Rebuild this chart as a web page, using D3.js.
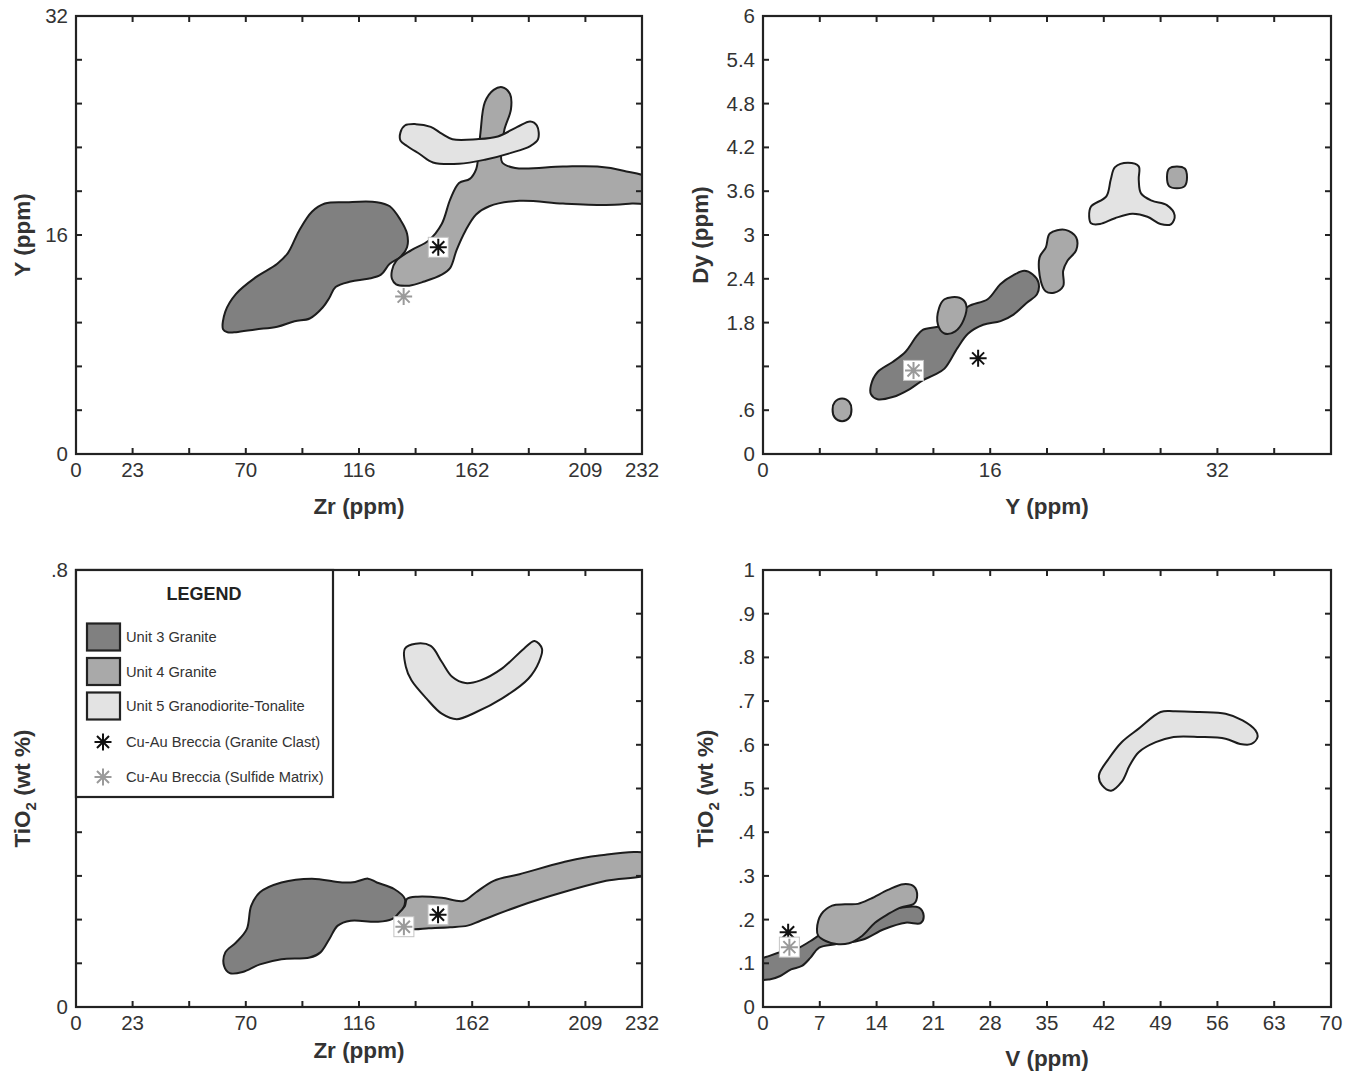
<!DOCTYPE html>
<html><head><meta charset="utf-8">
<script src="https://cdn.jsdelivr.net/npm/d3@7"></script>
<style>body{margin:0;background:#fff}svg{display:block}</style>
</head><body>
<svg id="chart" width="1358" height="1075"></svg>
<script>
// ---------- tick values & labels ----------
const zrTickValues = [0,23.2,46.4,69.6,92.8,116,139.2,162.4,185.6,208.8,232];
const zrTickLabels = ["0","23","","70","","116","","162","","209","232"];
const yppmTickValuesV = [0,3.2,6.4,9.6,12.8,16,19.2,22.4,25.6,28.8,32];
const yppmTickLabelsV = ["0","","","","","16","","","","","32"];
const yppmTickValuesH = [0,4,8,12,16,20,24,28,32,36,40];
const yppmTickLabelsH = ["0","","","","16","","","","32","",""];
const dyTickValues = [0,0.6,1.2,1.8,2.4,3,3.6,4.2,4.8,5.4,6];
const dyTickLabels = ["0",".6","","1.8","2.4","3","3.6","4.2","4.8","5.4","6"];
const tio2ATickValues = [0,0.08,0.16,0.24,0.32,0.4,0.48,0.56,0.64,0.72,0.8];
const tio2ATickLabels = ["0","","","","","","","","","",".8"];
const vTickValues = [0,7,14,21,28,35,42,49,56,63,70];
const vTickLabels = ["0","7","14","21","28","35","42","49","56","63","70"];
const tio2BTickValues = [0,0.1,0.2,0.3,0.4,0.5,0.6,0.7,0.8,0.9,1];
const tio2BTickLabels = ["0",".1",".2",".3",".4",".5",".6",".7",".8",".9","1"];

// ---------- legend ----------
const unitNames = ["Unit 3 Granite","Unit 4 Granite","Unit 5 Granodiorite-Tonalite"];
const markerNames = ["Cu-Au Breccia (Granite Clast)","Cu-Au Breccia (Sulfide Matrix)"];

// ---------- field outlines (data coordinates) ----------
// Panel A: Zr vs Y
const zrY_unit3 = [[60.3,9.1],[61.2,10.4],[65.6,11.7],[73.6,12.9],[82.5,13.9],[86.9,14.7],[91.4,16.3],[96.7,17.7],[102,18.3],[110.9,18.4],[123.3,18.4],[128.6,18.1],[133,17.1],[135.7,16.1],[135.7,15.1],[133,14.4],[128.6,13.9],[125,13.1],[119.7,12.8],[112.6,12.6],[106.4,12.2],[103.8,11.4],[101.1,10.7],[95.8,9.9],[89.6,9.7],[82.5,9.3],[73.6,9.1],[65.6,8.9],[62.1,8.9]];
const zrY_unit4 = [[129.5,13.4],[131.2,14.1],[137.5,14.9],[144.6,15.6],[149.9,16.8],[153.4,18.6],[157,19.8],[161.4,20.1],[164,20.8],[164.9,21.8],[165.8,23.5],[167.6,25.7],[171.2,26.6],[174.7,26.8],[177.9,26.3],[178.3,25.2],[175.6,23.7],[174.4,22.3],[174.7,21.3],[180,20.9],[199.6,21.0],[213.7,21.0],[224.4,20.7],[236,20.0],[236,18.4],[227.9,18.3],[217.3,18.2],[199.6,18.3],[181.8,18.5],[169.4,18.1],[164,17.5],[159.6,16.3],[156,14.9],[153.4,13.6],[149.9,13.1],[142.8,12.6],[136.6,12.3],[131.2,12.4],[129.5,12.8]];
const zrY_unit5 = [[133,23.5],[134.8,24.0],[139.2,24.1],[145.4,23.9],[149.9,23.4],[154.3,23.0],[164.1,23.0],[172.9,23.2],[180.9,23.9],[186.2,24.3],[188.9,24.0],[189.4,23.0],[186.2,22.5],[178.3,22.0],[167.6,21.5],[157,21.2],[146.3,21.3],[141,21.9],[135.7,22.5],[133,22.9]];
const zrY_clast = [148.5,15.1];
const zrY_matrix = [134.3,11.5];

// Panel B: Y vs Dy
const yDy_unit3 = [[7.6,0.94],[8.06,1.12],[9.13,1.26],[10.04,1.40],[10.8,1.61],[11.25,1.70],[12.47,1.75],[13.69,1.86],[14.45,2.02],[15.82,2.12],[16.73,2.33],[17.64,2.45],[18.4,2.51],[19.0,2.46],[19.4,2.35],[19.3,2.19],[18.56,2.07],[17.64,1.91],[16.73,1.82],[15.51,1.77],[14.45,1.65],[13.69,1.45],[12.78,1.17],[12.02,1.08],[11.25,1.01],[10.34,0.89],[9.13,0.78],[8.06,0.75],[7.6,0.82]];
const yDy_unit4a = [[5.57,0.76],[6.08,0.71],[6.23,0.61],[6.08,0.50],[5.57,0.45],[5.05,0.50],[4.9,0.61],[5.05,0.71]];
const yDy_unit4b = [[12.78,2.12],[13.84,2.14],[14.3,2.05],[14.14,1.84],[13.54,1.68],[12.78,1.65],[12.32,1.77],[12.4,2.0]];
const yDy_unit4c = [[20.2,3.02],[21.3,3.07],[22.05,2.97],[22.05,2.79],[21.45,2.65],[21.14,2.51],[21.14,2.30],[20.5,2.21],[19.9,2.23],[19.56,2.37],[19.47,2.69],[19.92,2.83]];
const yDy_unit4d = [[29.15,3.94],[29.7,3.91],[29.86,3.79],[29.7,3.67],[29.15,3.64],[28.6,3.67],[28.45,3.79],[28.6,3.91]];
const yDy_unit5 = [[22.97,3.25],[23.1,3.39],[24.18,3.53],[24.49,3.76],[24.79,3.93],[25.7,3.99],[26.46,3.94],[26.46,3.76],[26.62,3.57],[27.38,3.47],[28.44,3.41],[28.99,3.27],[28.75,3.15],[27.99,3.15],[27.07,3.25],[26.0,3.29],[24.79,3.23],[23.73,3.15],[23.1,3.16]];
const yDy_clast = [15.15,1.31];
const yDy_matrix = [10.6,1.145];

// Panel C: Zr vs TiO2
const zrTi_unit3 = [[60.7,0.075],[61.2,0.10],[65.6,0.118],[70,0.1425],[71.8,0.185],[75.4,0.21],[84.2,0.228],[96.7,0.235],[109.1,0.228],[114.4,0.229],[119.7,0.235],[123.3,0.228],[130.4,0.216],[134.8,0.198],[133.9,0.179],[129.5,0.161],[123.3,0.156],[112.6,0.158],[107.3,0.149],[103.8,0.124],[100.2,0.10],[95.8,0.0905],[84.2,0.0875],[75.4,0.078],[68.3,0.064],[63,0.062]];
const zrTi_unit4 = [[130.7,0.161],[134.8,0.185],[135.7,0.198],[140.1,0.202],[149.9,0.2],[158.7,0.194],[164,0.21],[171.2,0.231],[181.8,0.243],[199.6,0.265],[213.7,0.277],[236,0.278],[236,0.247],[217.3,0.231],[199.6,0.21],[181.8,0.185],[165.8,0.158],[160.5,0.149],[153.4,0.146],[144.6,0.144],[137.5,0.1425],[133,0.15]];
const zrTi_unit5 = [[134.8,0.656],[139.2,0.665],[145.4,0.661],[149.9,0.632],[154.3,0.604],[159.6,0.593],[165.8,0.598],[174.7,0.62],[183.6,0.656],[188,0.67],[191,0.656],[189.8,0.632],[185.4,0.601],[174.7,0.565],[164.1,0.54],[156.1,0.527],[149.9,0.537],[143.6,0.565],[137.5,0.598],[135.2,0.623]];
const zrTi_clast = [148.4,0.169];
const zrTi_matrix = [134.4,0.147];

// Panel D: V vs TiO2
const vTi_unit3 = [[-0.6,0.105],[0.8,0.117],[2.66,0.128],[3.99,0.132],[5.86,0.151],[7.45,0.17],[10.5,0.19],[13.84,0.209],[16.5,0.2255],[19.16,0.228],[19.8,0.209],[19.43,0.192],[17.57,0.193],[14.9,0.178],[12.24,0.154],[9.05,0.144],[6.92,0.136],[5.86,0.113],[4.79,0.094],[3.46,0.086],[2.13,0.071],[0.8,0.063],[-0.6,0.065]];
const vTi_unit4 = [[6.65,0.178],[7.19,0.2125],[8.52,0.232],[10.1,0.235],[11.7,0.236],[13.3,0.248],[15.4,0.268],[17.3,0.281],[18.6,0.276],[19.0,0.255],[18.6,0.236],[17.0,0.228],[15.4,0.2125],[13.8,0.193],[12.24,0.163],[10.6,0.146],[9.05,0.144],[7.72,0.151],[6.81,0.163]];
const vTi_unit5 = [[41.4,0.530],[42.6,0.568],[44.2,0.606],[46.3,0.637],[49.0,0.675],[50.6,0.677],[53.8,0.675],[57.0,0.671],[59.1,0.656],[60.7,0.633],[60.95,0.618],[60.2,0.602],[58.8,0.602],[57.0,0.614],[53.8,0.618],[50.6,0.618],[48.4,0.606],[46.3,0.583],[45.2,0.553],[44.2,0.515],[42.9,0.495],[41.8,0.507]];
const vTi_clast = [3.1,0.171];
const vTi_matrix = [3.25,0.137];

// ---------- styles / layout ----------
const unitFill = ["#808080","#a9a9a9","#e3e3e3"];
const outline = "#1c1c1c";
const clastColor = "#111";
const matrixColor = "#9a9a9a";
const tickFont = "'Liberation Sans', Arial, sans-serif";

const svg = d3.select("#chart");

const panels = [
  {id:"a", px:[76,642], py:[16,454], xd:[0,232], yd:[0,32],
   xt:zrTickValues, xl:zrTickLabels, yt:yppmTickValuesV, yl:yppmTickLabelsV,
   xTitle:"Zr (ppm)", yTitle:"Y (ppm)", xTitleY:514, yTitleX:22, tio:false,
   fields:[[zrY_unit3,0],[zrY_unit4,1],[zrY_unit5,2]],
   stars:[[zrY_clast,0,true],[zrY_matrix,1,false]]},
  {id:"b", px:[763,1331], py:[16,454], xd:[0,40], yd:[0,6],
   xt:yppmTickValuesH, xl:yppmTickLabelsH, yt:dyTickValues, yl:dyTickLabels,
   xTitle:"Y (ppm)", yTitle:"Dy (ppm)", xTitleY:514, yTitleX:700, tio:false,
   fields:[[yDy_unit3,0],[yDy_unit4a,1],[yDy_unit4b,1],[yDy_unit4c,1],[yDy_unit4d,1],[yDy_unit5,2]],
   stars:[[yDy_clast,0,false],[yDy_matrix,1,true]]},
  {id:"c", px:[76,642], py:[570,1007], xd:[0,232], yd:[0,0.8],
   xt:zrTickValues, xl:zrTickLabels, yt:tio2ATickValues, yl:tio2ATickLabels,
   xTitle:"Zr (ppm)", yTitle:"TiO", xTitleY:1058, yTitleX:22, tio:true,
   fields:[[zrTi_unit3,0],[zrTi_unit4,1],[zrTi_unit5,2]],
   stars:[[zrTi_clast,0,true],[zrTi_matrix,1,true]]},
  {id:"d", px:[763,1331], py:[570,1007], xd:[0,70], yd:[0,1],
   xt:vTickValues, xl:vTickLabels, yt:tio2BTickValues, yl:tio2BTickLabels,
   xTitle:"V (ppm)", yTitle:"TiO", xTitleY:1066, yTitleX:705, tio:true,
   fields:[[vTi_unit3,0],[vTi_unit4,1],[vTi_unit5,2]],
   stars:[[vTi_clast,0,false],[vTi_matrix,1,true]]}
];

function starPath(r){
  const d = r*Math.SQRT1_2;
  return `M${-r},0L${r},0M0,${-r}L0,${r}M${-d},${-d}L${d},${d}M${-d},${d}L${d},${-d}`;
}

panels.forEach(p => {
  const x = d3.scaleLinear().domain(p.xd).range(p.px);
  const y = d3.scaleLinear().domain(p.yd).range([p.py[1], p.py[0]]);
  const g = svg.append("g");

  svg.append("clipPath").attr("id","clip-"+p.id)
    .append("rect").attr("x",p.px[0]).attr("y",p.py[0])
    .attr("width",p.px[1]-p.px[0]).attr("height",p.py[1]-p.py[0]);

  const line = d3.line().x(d=>x(d[0])).y(d=>y(d[1])).curve(d3.curveCatmullRomClosed.alpha(0.5));
  const fg = g.append("g").attr("clip-path","url(#clip-"+p.id+")");
  p.fields.forEach(([pts,u]) => {
    fg.append("path").attr("d",line(pts)).attr("fill",unitFill[u])
      .attr("stroke",outline).attr("stroke-width",2).attr("stroke-linejoin","round");
  });

  // stars
  p.stars.forEach(([pt,k,boxed]) => {
    const cx = x(pt[0]), cy = y(pt[1]);
    if (boxed) {
      g.append("rect").attr("x",cx-10).attr("y",cy-10).attr("width",20).attr("height",20)
        .attr("fill","#fff").attr("stroke","#c4c4c4").attr("stroke-width",1);
    }
    g.append("path").attr("transform",`translate(${cx},${cy})`).attr("d",starPath(8.5))
      .attr("stroke",k===0?clastColor:matrixColor).attr("stroke-width",2).attr("fill","none");
  });

  // ticks (inward, all sides)
  const tl = 6;
  p.xt.forEach(v => {
    const xx = x(v);
    g.append("line").attr("x1",xx).attr("x2",xx).attr("y1",p.py[1]).attr("y2",p.py[1]-tl).attr("stroke","#222").attr("stroke-width",2);
    g.append("line").attr("x1",xx).attr("x2",xx).attr("y1",p.py[0]).attr("y2",p.py[0]+tl).attr("stroke","#222").attr("stroke-width",2);
  });
  p.yt.forEach(v => {
    const yy = y(v);
    g.append("line").attr("x1",p.px[0]).attr("x2",p.px[0]+tl).attr("y1",yy).attr("y2",yy).attr("stroke","#222").attr("stroke-width",2);
    g.append("line").attr("x1",p.px[1]).attr("x2",p.px[1]-tl).attr("y1",yy).attr("y2",yy).attr("stroke","#222").attr("stroke-width",2);
  });

  // frame
  g.append("rect").attr("x",p.px[0]).attr("y",p.py[0]).attr("width",p.px[1]-p.px[0]).attr("height",p.py[1]-p.py[0])
    .attr("fill","none").attr("stroke","#222").attr("stroke-width",2.2);

  // tick labels
  p.xt.forEach((v,i) => {
    if (!p.xl[i]) return;
    g.append("text").attr("x",x(v)).attr("y",p.py[1]+23).attr("text-anchor","middle")
      .attr("font-family",tickFont).attr("font-size",20.5).attr("fill","#333").text(p.xl[i]);
  });
  p.yt.forEach((v,i) => {
    if (!p.yl[i]) return;
    g.append("text").attr("x",p.px[0]-8).attr("y",y(v)+7).attr("text-anchor","end")
      .attr("font-family",tickFont).attr("font-size",20.5).attr("fill","#333").text(p.yl[i]);
  });

  // axis titles
  g.append("text").attr("x",(p.px[0]+p.px[1])/2).attr("y",p.xTitleY).attr("text-anchor","middle")
    .attr("font-family",tickFont).attr("font-weight","bold").attr("font-size",22.5).attr("fill","#333").text(p.xTitle);
  const yt = g.append("text").attr("transform",`translate(${p.yTitleX},${(p.py[0]+p.py[1])/2}) rotate(-90)`)
    .attr("text-anchor","middle").attr("dy","0.35em")
    .attr("font-family",tickFont).attr("font-weight","bold").attr("font-size",22.5).attr("fill","#333");
  if (p.tio) {
    yt.append("tspan").text("TiO");
    yt.append("tspan").attr("font-size",15).attr("dy",6).text("2");
    yt.append("tspan").attr("dy",-6).text(" (wt %)");
  } else {
    yt.text(p.yTitle);
  }

  // legend in panel c
  if (p.id === "c") {
    const lg = g.append("g");
    lg.append("rect").attr("x",p.px[0]).attr("y",p.py[0]).attr("width",257).attr("height",227)
      .attr("fill","#fff").attr("stroke","#222").attr("stroke-width",2.2);
    lg.append("text").attr("x",204).attr("y",600).attr("text-anchor","middle")
      .attr("font-family",tickFont).attr("font-weight","bold").attr("font-size",18).attr("fill","#222").text("LEGEND");
    unitNames.forEach((name,i) => {
      const cy = 637 + i*34.5;
      lg.append("rect").attr("x",87).attr("y",cy-13.5).attr("width",33).attr("height",27)
        .attr("fill",unitFill[i]).attr("stroke","#222").attr("stroke-width",2.2);
      lg.append("text").attr("x",126).attr("y",cy+5).attr("font-family",tickFont)
        .attr("font-size",14.7).attr("fill","#333").text(name);
    });
    markerNames.forEach((name,i) => {
      const cy = 742 + i*35;
      lg.append("path").attr("transform",`translate(103,${cy})`).attr("d",starPath(8.5))
        .attr("stroke",i===0?clastColor:matrixColor).attr("stroke-width",2).attr("fill","none");
      lg.append("text").attr("x",126).attr("y",cy+5).attr("font-family",tickFont)
        .attr("font-size",14.7).attr("fill","#333").text(name);
    });
  }
});
</script>
</body></html>
